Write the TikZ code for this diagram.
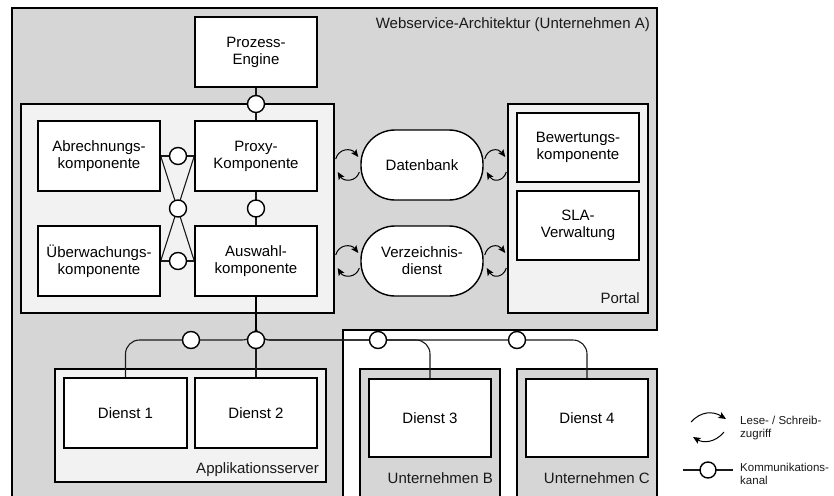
\documentclass[tikz,border=0pt]{standalone}
\usepackage{fontspec}
\setmainfont{Liberation Sans}
\usetikzlibrary{calc,arrows.meta}
\pgfdeclarelayer{back}
\pgfdeclarelayer{wires}
\pgfsetlayers{back,wires,main}
\definecolor{areagray}{HTML}{D6D6D6}
\definecolor{panelgray}{HTML}{F2F2F2}
\definecolor{wire}{HTML}{1A1A1A}
\newcommand{\boxfont}{\fontsize{15}{17}\selectfont}
\newcommand{\legfont}{\fontsize{11.5}{12.5}\selectfont}
% a pair of read/write arcs between two points at the same height
\newcommand{\rwpair}[2]{%
  \draw[rw] ($(#1)+(1,-6)$) .. controls ($(#1)+(4,-17)$) and ($(#2)+(-9,-17)$) .. ($(#2)+(-2,-8)$);
  \draw[rw] ($(#2)+(-1,7)$) .. controls ($(#2)+(-4,17)$) and ($(#1)+(9,17)$) .. ($(#1)+(3,7)$);
}
\begin{document}
\begin{tikzpicture}[x=1pt,y=-1pt,
  box/.style={draw, fill=white, line width=1.4pt, minimum width=122pt, minimum height=70pt,
    align=center, inner sep=1pt, font=\boxfont},
  stadium/.style={box, rounded corners=34pt},
  panel/.style={draw, fill=panelgray, line width=1.4pt, inner sep=0pt},
  port/.style={circle, draw, fill=white, line width=1.4pt, minimum size=17pt, inner sep=0pt},
  conn/.style={draw=wire, line width=1.1pt},
  trunk/.style={draw=black, line width=1.4pt},
  rw/.style={draw=black, line width=1pt, -{Stealth[length=7.5pt,width=6.5pt,inset=1.5pt]}},
  caption/.style={font=\boxfont, inner sep=0pt, text=black!90},
  legtext/.style={font=\legfont, inner sep=0pt, align=left, anchor=west, text=black!90},
]
\useasboundingbox (0,0) rectangle (834,495);
\clip (0,0) rectangle (834,495);

% areas and panels
\begin{pgfonlayer}{back}
  \draw[fill=areagray, line width=1.4pt]
    (12,505) -- (12,8) -- (657,8) -- (657,330) -- (343,330) -- (343,505);
  \node[panel, minimum width=313pt, minimum height=209pt] (cont) at (177.5,208.5) {};
  \node[panel, minimum width=140pt, minimum height=209pt] (portal) at (578,208.5) {};
  \node[panel, minimum width=271pt, minimum height=113pt] (appsrv) at (190.5,425.5) {};
  \node[panel, fill=areagray, minimum width=140pt, minimum height=140pt] (compB) at (430,439) {};
  \node[panel, fill=areagray, minimum width=140pt, minimum height=140pt] (compC) at (587,439) {};
\end{pgfonlayer}

% components
\node[box] (pe) at (256,52) {Prozess-\\Engine};
\node[box] (abr) at (99,156) {Abrechnungs-\\komponente};
\node[box] (proxy) at (256,156) {Proxy-\\Komponente};
\node[box] (ueb) at (99,261) {Überwachungs-\\komponente};
\node[box] (aus) at (256,261) {Auswahl-\\komponente};
\node[stadium] (db) at (422,165) {Datenbank};
\node[stadium] (vz) at (422,261) {Verzeichnis-\\dienst};
\node[box, minimum height=69pt] (bew) at (578,147.5) {Bewertungs-\\komponente};
\node[box, minimum height=69pt] (sla) at (578,225.5) {SLA-\\Verwaltung};
\node[box, minimum width=123pt] (d1) at (125.5,413) {Dienst 1};
\node[box] (d2) at (256,413) {Dienst 2};
\node[box, minimum height=78pt] (d3) at (430,418) {Dienst 3};
\node[box, minimum height=78pt] (d4) at (587,418) {Dienst 4};

% captions
\node[caption, anchor=base east] (tA) at (650,29) {Webservice-Architektur (Unternehmen A)};
\node[caption, anchor=base east] (tP) at (640,303) {Portal};
\node[caption, anchor=base east] (tS) at (319,473) {Applikationsserver};
\node[caption, anchor=base east] (tB) at (493,483) {Unternehmen B};
\node[caption, anchor=base east] (tC) at (650,483) {Unternehmen C};

% communication ports
\node[port] (pTop) at (256,104) {};
\node[port] (pAP) at (178,156) {};
\node[port] (pMid) at (178,208.5) {};
\node[port] (pPA) at (256,208.5) {};
\node[port] (pUA) at (178,261) {};
\node[port] (pJ) at (256,340) {};
\node[port] (pL) at (191,340) {};
\node[port] (p3) at (378,340) {};
\node[port] (p4) at (517,340) {};

\begin{pgfonlayer}{wires}
  \draw[conn] (pe.south) -- (proxy.north);
  \draw[conn] (proxy.south) -- (aus.north);
  \draw[conn] (abr.east) -- (proxy.west);
  \draw[conn] (ueb.east) -- (aus.west);
  \draw[conn] (abr.east) -- (aus.west);
  \draw[conn] (proxy.west) -- (ueb.east);
  \draw[conn, rounded corners=14pt] (aus.south) |- (pJ -| d1.north) -- (d1.north);
  \draw[conn, rounded corners=14pt] (aus.south) |- (pJ -| d3.north) -- (d3.north);
  \draw[conn, rounded corners=14pt] (aus.south) |- (pJ -| d4.north) -- (d4.north);
  \draw[conn] (pJ.center) -- (d2.north);
  \draw[trunk] (aus.south) -- (pJ.center);
\end{pgfonlayer}

% read / write access
\coordinate (dbL) at (db.west -| cont.east);
\coordinate (dbR) at (db.east -| portal.west);
\coordinate (vzL) at (vz.west -| cont.east);
\coordinate (vzR) at (vz.east -| portal.west);
\rwpair{dbL}{db.west}
\rwpair{db.east}{dbR}
\rwpair{vzL}{vz.west}
\rwpair{vz.east}{vzR}

% legend
\coordinate (lgA) at (691,427);
\coordinate (lgB) at (727,427);
\draw[rw] ($(lgA)+(0,-5)$) .. controls ($(lgA)+(10,-16)$) and ($(lgB)+(-14,-16)$) .. ($(lgB)+(-1,-8)$);
\draw[rw] ($(lgB)+(-3,5)$) .. controls ($(lgB)+(-12,16)$) and ($(lgA)+(12,16)$) .. ($(lgA)+(2,10)$);
\node[legtext] (lg1) at (740,428) {Lese- / Schreib-\\zugriff};
\coordinate (lkL) at (683,470);
\coordinate (lkR) at (733,470);
\begin{pgfonlayer}{wires}
  \draw[conn] (lkL) -- (lkR);
\end{pgfonlayer}
\node[port, minimum size=16pt] (lk) at (708,470) {};
\node[legtext] (lg2) at (740,474) {Kommunikations-\\kanal};
\end{tikzpicture}
\end{document}
